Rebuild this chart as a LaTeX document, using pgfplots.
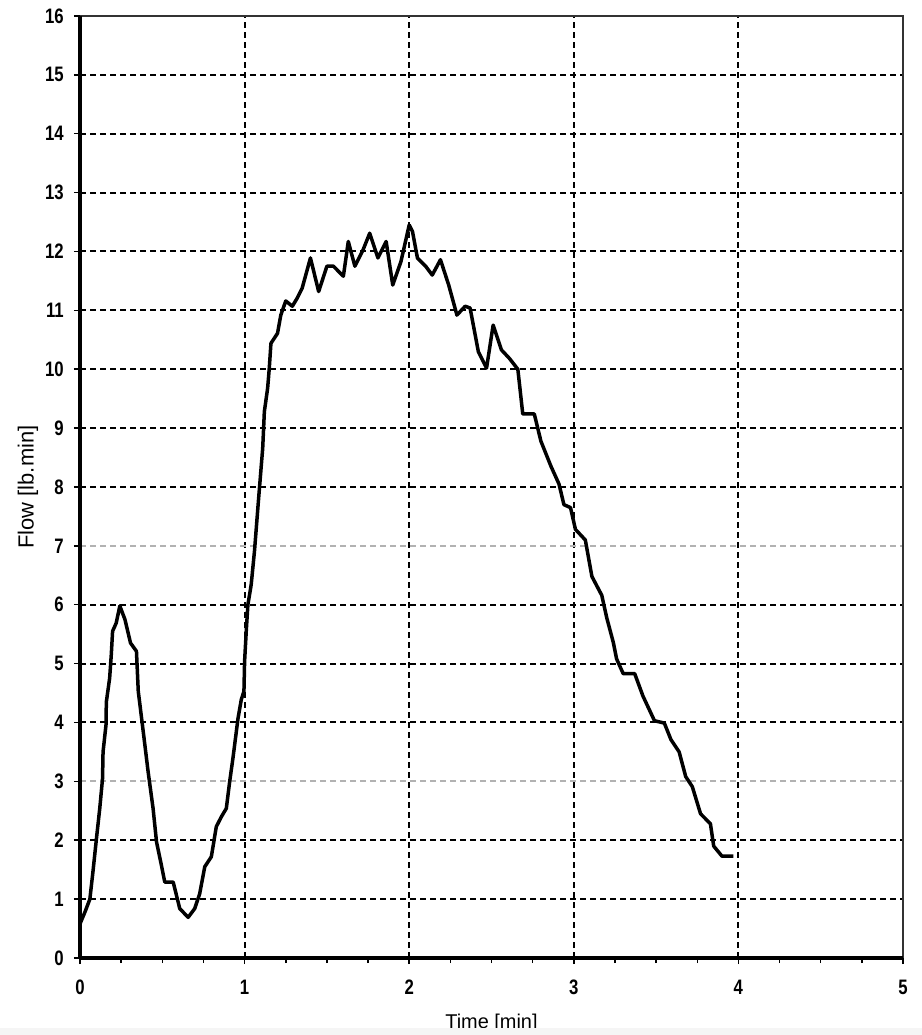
\documentclass[border=0pt]{standalone}
\usepackage{fontspec}
\setmainfont{Liberation Sans}
\newfontfamily\tickfont{Liberation Sans}[FakeStretch=0.8]
\usepackage{pgfplots}
\pgfplotsset{compat=1.18}
\begin{document}
\begin{tikzpicture}
\begin{axis}[
  at={(0,0)}, anchor=south west,
  scale only axis, width=823bp, height=942bp,
  xmin=0, xmax=5, ymin=0, ymax=16,
  xtick={0,1,2,3,4,5},
  ytick={0,1,2,4,5,6,8,9,10,11,12,13,14,15,16},
  extra y ticks={3,7},
  extra y tick style={major grid style={gray!60, line width=2bp, dash pattern=on 6bp off 4bp}},
  minor x tick num=3,
  minor y tick num=4,
  tick align=outside,
  tick pos=left,
  major tick length=6bp,
  minor tick length=5bp,
  every tick/.style={black, line width=1.5bp},
  grid=major,
  major grid style={black, line width=2bp, dash pattern=on 6bp off 4bp},
  axis line style={black},
  /pgf/number format/assume math mode=true,
  tick label style={font=\tickfont\bfseries\fontsize{21}{23}\selectfont, inner sep=0pt},
  xticklabel style={anchor=north, yshift=-16bp},
  yticklabel style={anchor=east, xshift=-10bp},
  xlabel={Time [min]},
  ylabel={Flow [lb.min]},
  every axis x label/.style={at={(axis description cs:0.5,0)}, yshift=-70bp, anchor=base, font=\fontsize{20}{22}\selectfont},
  every axis y label/.style={at={(axis description cs:0,0.5)}, xshift=-52bp, rotate=90, anchor=center, font=\fontsize{22}{24}\selectfont},
  clip=false,
]
\addplot[black, line width=3.5bp, line join=round] coordinates {
(0,0.58) (0.03,0.78) (0.06,1.0) (0.08,1.5) (0.10,2.03) (0.12,2.54) (0.137,3.05) (0.14,3.5)
(0.158,3.96) (0.16,4.35) (0.18,4.75) (0.19,5.15) (0.198,5.55) (0.22,5.69) (0.242,5.98)
(0.273,5.75) (0.307,5.35) (0.343,5.21) (0.354,4.53) (0.384,3.85) (0.414,3.16) (0.444,2.54)
(0.465,1.97) (0.495,1.57) (0.515,1.29) (0.566,1.29) (0.606,0.84) (0.657,0.69) (0.697,0.84)
(0.727,1.09) (0.758,1.55) (0.798,1.72) (0.828,2.23) (0.859,2.40) (0.889,2.54) (0.909,2.99)
(0.929,3.39) (0.96,4.07) (0.98,4.39) (0.996,4.53) (1.0,5.04) (1.01,5.55) (1.02,6.0)
(1.04,6.34) (1.06,6.91) (1.085,7.8) (1.11,8.66) (1.12,9.28) (1.14,9.68) (1.15,10.02)
(1.16,10.44) (1.20,10.61) (1.22,10.92) (1.25,11.16) (1.29,11.07) (1.32,11.21) (1.35,11.38)
(1.40,11.89) (1.45,11.32) (1.50,11.75) (1.54,11.75) (1.60,11.58) (1.63,12.17) (1.67,11.75)
(1.72,12.03) (1.76,12.31) (1.81,11.89) (1.86,12.17) (1.90,11.43) (1.95,11.83) (2.0,12.45)
(2.02,12.34) (2.05,11.89) (2.10,11.75) (2.14,11.60) (2.19,11.86) (2.24,11.43) (2.29,10.92)
(2.34,11.07) (2.37,11.04) (2.42,10.30) (2.47,10.02) (2.51,10.75) (2.56,10.33) (2.61,10.18)
(2.66,10.0) (2.69,9.24) (2.76,9.24) (2.80,8.78) (2.86,8.36) (2.91,8.05) (2.94,7.70)
(2.98,7.65) (3.01,7.28) (3.07,7.10) (3.11,6.48) (3.17,6.16) (3.20,5.78) (3.24,5.36)
(3.26,5.08) (3.30,4.83) (3.37,4.83) (3.42,4.45) (3.49,4.03) (3.55,3.99) (3.59,3.71)
(3.64,3.50) (3.68,3.08) (3.72,2.91) (3.77,2.45) (3.83,2.28) (3.85,1.90) (3.90,1.73)
(3.97,1.73)
};
\draw[black!80, line width=2bp] (axis cs:0,16) -- (axis cs:5,16) -- (axis cs:5,0);
\draw[black, line width=4.5bp] (axis cs:0,0) -- (axis cs:5,0);
\draw[black, line width=3bp] (axis cs:0,0) -- (axis cs:0,16);
\end{axis}
\fill[black!4] (-80bp,-77bp) rectangle (842bp,-70bp);
\pgfresetboundingbox
\path (-80bp,-77bp) rectangle (842bp,958bp);
\end{tikzpicture}
\end{document}
